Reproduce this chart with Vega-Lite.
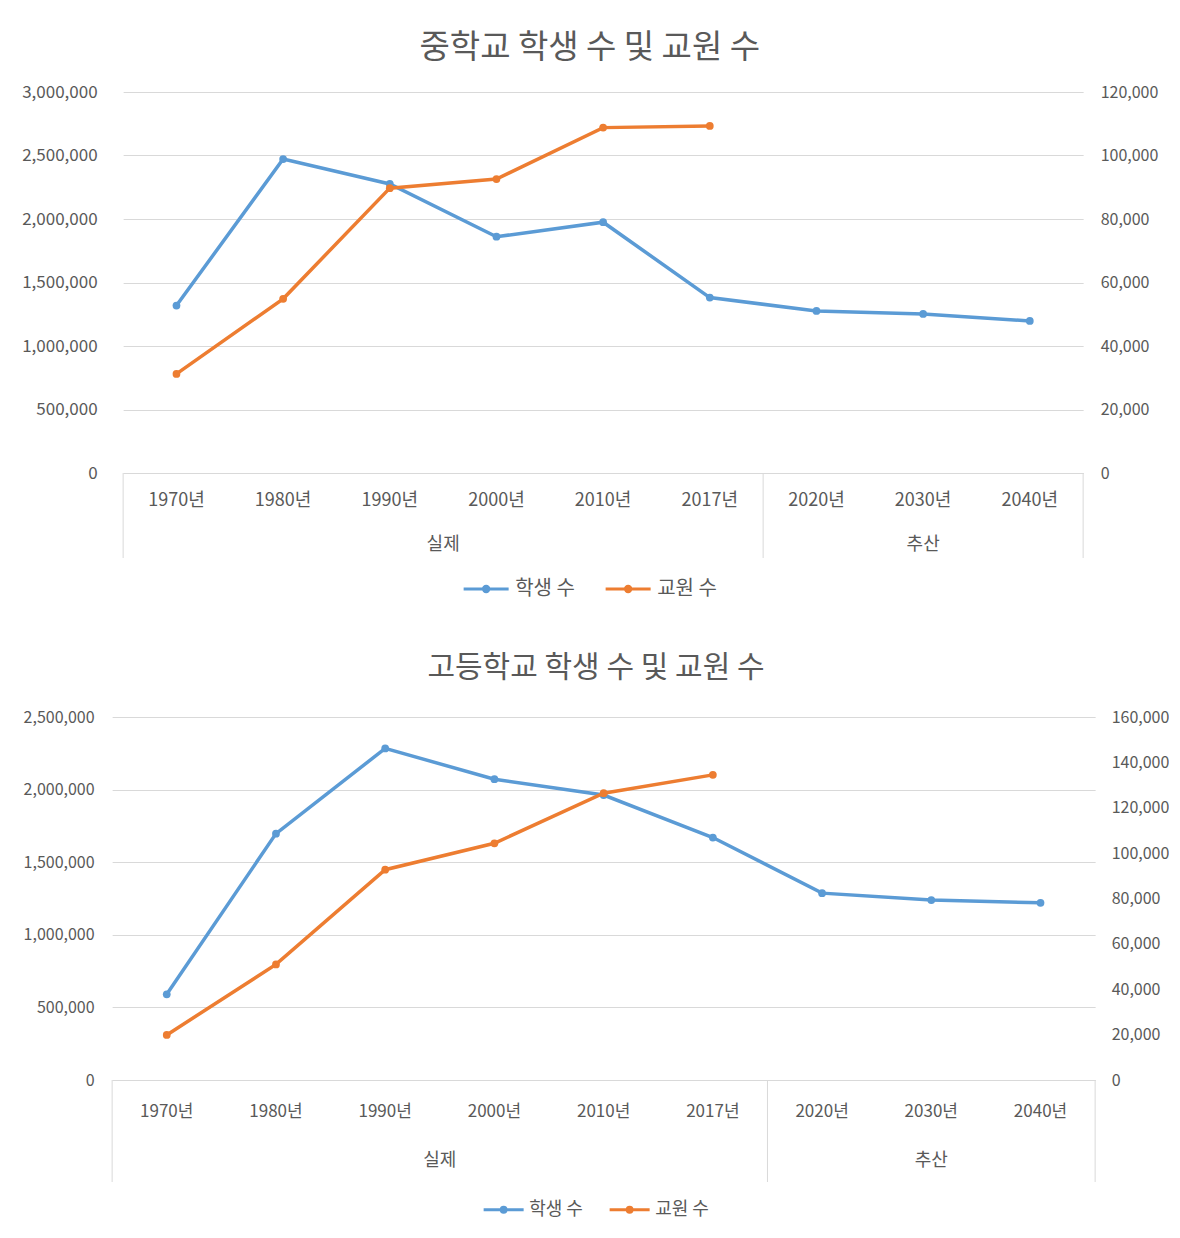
{
  "$schema": "https://vega.github.io/schema/vega-lite/v6.json",
  "background": "white",
  "padding": {"left": 21, "top": 32, "right": 0, "bottom": 0},
  "config": {
    "font": "Noto Sans CJK KR",
    "view": {"stroke": null},
    "axis": {"labelColor": "#595959", "labelFont": "Noto Sans CJK KR", "gridColor": "#D9D9D9", "domainColor": "#D9D9D9"},
    "legend": {"layout": {"bottom": {"anchor": "middle"}}},
    "title": {"color": "#595959", "fontWeight": "normal", "font": "Noto Sans CJK KR"}
  },
  "datasets": {
    "middle": [
      {"year": "1970년", "group": "실제", "series": "학생 수", "value": 1318808},
      {"year": "1980년", "group": "실제", "series": "학생 수", "value": 2471997},
      {"year": "1990년", "group": "실제", "series": "학생 수", "value": 2275751},
      {"year": "2000년", "group": "실제", "series": "학생 수", "value": 1860539},
      {"year": "2010년", "group": "실제", "series": "학생 수", "value": 1974798},
      {"year": "2017년", "group": "실제", "series": "학생 수", "value": 1381334},
      {"year": "2020년", "group": "추산", "series": "학생 수", "value": 1276000},
      {"year": "2030년", "group": "추산", "series": "학생 수", "value": 1252000},
      {"year": "2040년", "group": "추산", "series": "학생 수", "value": 1197000},
      {"year": "1970년", "group": "실제", "series": "교원 수", "value": 31207},
      {"year": "1980년", "group": "실제", "series": "교원 수", "value": 54858},
      {"year": "1990년", "group": "실제", "series": "교원 수", "value": 89719},
      {"year": "2000년", "group": "실제", "series": "교원 수", "value": 92589},
      {"year": "2010년", "group": "실제", "series": "교원 수", "value": 108781},
      {"year": "2017년", "group": "실제", "series": "교원 수", "value": 109300}
    ],
    "high": [
      {"year": "1970년", "group": "실제", "series": "학생 수", "value": 590382},
      {"year": "1980년", "group": "실제", "series": "학생 수", "value": 1696792},
      {"year": "1990년", "group": "실제", "series": "학생 수", "value": 2283806},
      {"year": "2000년", "group": "실제", "series": "학생 수", "value": 2071468},
      {"year": "2010년", "group": "실제", "series": "학생 수", "value": 1962356},
      {"year": "2017년", "group": "실제", "series": "학생 수", "value": 1669699},
      {"year": "2020년", "group": "추산", "series": "학생 수", "value": 1287000},
      {"year": "2030년", "group": "추산", "series": "학생 수", "value": 1239000},
      {"year": "2040년", "group": "추산", "series": "학생 수", "value": 1220000},
      {"year": "1970년", "group": "실제", "series": "교원 수", "value": 19854},
      {"year": "1980년", "group": "실제", "series": "교원 수", "value": 50948},
      {"year": "1990년", "group": "실제", "series": "교원 수", "value": 92683},
      {"year": "2000년", "group": "실제", "series": "교원 수", "value": 104351},
      {"year": "2010년", "group": "실제", "series": "교원 수", "value": 126423},
      {"year": "2017년", "group": "실제", "series": "교원 수", "value": 134500}
    ]
  },
  "resolve": {"scale": {"color": "independent"}, "legend": {"color": "independent"}},
  "columns": 1,
  "center": true,
  "spacing": 54,
  "concat": [
    {
      "title": {"text": "중학교 학생 수 및 교원 수", "fontSize": 33, "anchor": "middle", "offset": 18},
      "bounds": "flush",
      "spacing": 0,
      "vconcat": [
        {
          "width": 960,
          "height": 381,
          "data": {"name": "middle"},
          "encoding": {
            "x": {"field": "year", "type": "ordinal", "scale": {"type": "band", "paddingInner": 0, "paddingOuter": 0},
                  "axis": {"title": null, "labels": false, "ticks": false, "domain": true, "grid": false}}
          },
          "layer": [
            {
              "transform": [{"filter": "datum.series === '학생 수'"}],
              "mark": {"type": "line", "strokeWidth": 3.5, "point": {"filled": true, "size": 60}},
              "encoding": {
                "y": {"field": "value", "type": "quantitative", "scale": {"domain": [0, 3000000]},
                      "axis": {"title": null, "values": [0, 500000, 1000000, 1500000, 2000000, 2500000, 3000000], "format": ",d", "grid": true, "domain": false, "ticks": false, "labelPadding": 26, "labelFontSize": 17}},
                "color": {"field": "series", "type": "nominal", "scale": {"domain": ["학생 수", "교원 수"], "range": ["#5B9BD5", "#ED7D31"]},
                          "legend": {"title": null, "orient": "bottom", "direction": "horizontal", "symbolType": "M-1,0L1,0M-0.12,0A0.12,0.12,0,1,1,0.12,0A0.12,0.12,0,1,1,-0.12,0", "symbolSize": 2025, "symbolStrokeWidth": 3, "labelFontSize": 20, "labelColor": "#595959", "labelOffset": 5, "columnPadding": 24, "offset": 6}}
              }
            },
            {
              "transform": [{"filter": "datum.series === '교원 수'"}],
              "mark": {"type": "line", "strokeWidth": 3.5, "point": {"filled": true, "size": 60}},
              "encoding": {
                "y": {"field": "value", "type": "quantitative", "scale": {"domain": [0, 120000]},
                      "axis": {"orient": "right", "title": null, "values": [0, 20000, 40000, 60000, 80000, 100000, 120000], "format": ",d", "grid": false, "domain": false, "ticks": false, "labelPadding": 17, "labelFontSize": 16}},
                "color": {"field": "series", "type": "nominal"}
              }
            }
          ],
          "resolve": {"scale": {"y": "independent"}}
        },
        {
          "width": 960,
          "height": 85,
          "data": {"name": "middle"},
          "transform": [{"filter": "datum.series === '학생 수'"}],
          "encoding": {
            "x": {"field": "year", "type": "ordinal", "scale": {"type": "band", "paddingInner": 0, "paddingOuter": 0}, "axis": null}
          },
          "layer": [
            {
              "transform": [{"filter": "datum.year === '1970년' || datum.year === '2020년'"}],
              "mark": {"type": "rule", "color": "#D9D9D9", "strokeWidth": 1},
              "encoding": {"x": {"field": "year", "type": "ordinal", "bandPosition": 0, "scale": {"type": "band", "paddingInner": 0, "paddingOuter": 0}, "axis": null}}
            },
            {
              "transform": [{"filter": "datum.year === '2040년'"}],
              "mark": {"type": "rule", "color": "#D9D9D9", "strokeWidth": 1},
              "encoding": {"x": {"field": "year", "type": "ordinal", "bandPosition": 1, "scale": {"type": "band", "paddingInner": 0, "paddingOuter": 0}, "axis": null}}
            },
            {
              "mark": {"type": "text", "fontSize": 18, "color": "#595959", "baseline": "middle"},
              "encoding": {
                "text": {"field": "year"},
                "y": {"datum": "연도", "type": "ordinal", "scale": {"type": "point", "domain": ["연도", "구분"], "range": [28, 72], "padding": 0}, "axis": null}
              }
            },
            {
              "transform": [{"filter": "datum.year === '1990년'"}],
              "mark": {"type": "text", "fontSize": 18, "color": "#595959", "baseline": "middle"},
              "encoding": {
                "x": {"field": "year", "type": "ordinal", "bandPosition": 1, "scale": {"type": "band", "paddingInner": 0, "paddingOuter": 0}, "axis": null},
                "text": {"field": "group"},
                "y": {"datum": "구분", "type": "ordinal"}
              }
            },
            {
              "transform": [{"filter": "datum.year === '2030년'"}],
              "mark": {"type": "text", "fontSize": 18, "color": "#595959", "baseline": "middle"},
              "encoding": {
                "text": {"field": "group"},
                "y": {"datum": "구분", "type": "ordinal"}
              }
            }
          ]
        }
      ]
    },
    {
      "title": {"text": "고등학교 학생 수 및 교원 수", "fontSize": 30, "anchor": "middle", "offset": 26},
      "bounds": "flush",
      "spacing": 0,
      "vconcat": [
        {
          "width": 983,
          "height": 363,
          "data": {"name": "high"},
          "encoding": {
            "x": {"field": "year", "type": "ordinal", "scale": {"type": "band", "paddingInner": 0, "paddingOuter": 0},
                  "axis": {"title": null, "labels": false, "ticks": false, "domain": true, "grid": false}}
          },
          "layer": [
            {
              "transform": [{"filter": "datum.series === '학생 수'"}],
              "mark": {"type": "line", "strokeWidth": 3.5, "point": {"filled": true, "size": 60}},
              "encoding": {
                "y": {"field": "value", "type": "quantitative", "scale": {"domain": [0, 2500000]},
                      "axis": {"title": null, "values": [0, 500000, 1000000, 1500000, 2000000, 2500000], "format": ",d", "grid": true, "domain": false, "ticks": false, "labelPadding": 18, "labelFontSize": 16}},
                "color": {"field": "series", "type": "nominal", "scale": {"domain": ["학생 수", "교원 수"], "range": ["#5B9BD5", "#ED7D31"]},
                          "legend": {"title": null, "orient": "bottom", "direction": "horizontal", "symbolType": "M-1,0L1,0M-0.12,0A0.12,0.12,0,1,1,0.12,0A0.12,0.12,0,1,1,-0.12,0", "symbolSize": 1600, "symbolStrokeWidth": 3, "labelFontSize": 18, "labelColor": "#595959", "labelOffset": 4, "columnPadding": 20, "offset": 5}}
              }
            },
            {
              "transform": [{"filter": "datum.series === '교원 수'"}],
              "mark": {"type": "line", "strokeWidth": 3.5, "point": {"filled": true, "size": 60}},
              "encoding": {
                "y": {"field": "value", "type": "quantitative", "scale": {"domain": [0, 160000]},
                      "axis": {"orient": "right", "title": null, "values": [0, 20000, 40000, 60000, 80000, 100000, 120000, 140000, 160000], "format": ",d", "grid": false, "domain": false, "ticks": false, "labelPadding": 16, "labelFontSize": 16}},
                "color": {"field": "series", "type": "nominal"}
              }
            }
          ],
          "resolve": {"scale": {"y": "independent"}}
        },
        {
          "width": 983,
          "height": 102,
          "data": {"name": "high"},
          "transform": [{"filter": "datum.series === '학생 수'"}],
          "encoding": {
            "x": {"field": "year", "type": "ordinal", "scale": {"type": "band", "paddingInner": 0, "paddingOuter": 0}, "axis": null}
          },
          "layer": [
            {
              "transform": [{"filter": "datum.year === '1970년' || datum.year === '2020년'"}],
              "mark": {"type": "rule", "color": "#D9D9D9", "strokeWidth": 1},
              "encoding": {"x": {"field": "year", "type": "ordinal", "bandPosition": 0, "scale": {"type": "band", "paddingInner": 0, "paddingOuter": 0}, "axis": null}}
            },
            {
              "transform": [{"filter": "datum.year === '2040년'"}],
              "mark": {"type": "rule", "color": "#D9D9D9", "strokeWidth": 1},
              "encoding": {"x": {"field": "year", "type": "ordinal", "bandPosition": 1, "scale": {"type": "band", "paddingInner": 0, "paddingOuter": 0}, "axis": null}}
            },
            {
              "mark": {"type": "text", "fontSize": 17, "color": "#595959", "baseline": "middle"},
              "encoding": {
                "text": {"field": "year"},
                "y": {"datum": "연도", "type": "ordinal", "scale": {"type": "point", "domain": ["연도", "구분"], "range": [32, 81], "padding": 0}, "axis": null}
              }
            },
            {
              "transform": [{"filter": "datum.year === '1990년'"}],
              "mark": {"type": "text", "fontSize": 18, "color": "#595959", "baseline": "middle"},
              "encoding": {
                "x": {"field": "year", "type": "ordinal", "bandPosition": 1, "scale": {"type": "band", "paddingInner": 0, "paddingOuter": 0}, "axis": null},
                "text": {"field": "group"},
                "y": {"datum": "구분", "type": "ordinal"}
              }
            },
            {
              "transform": [{"filter": "datum.year === '2030년'"}],
              "mark": {"type": "text", "fontSize": 18, "color": "#595959", "baseline": "middle"},
              "encoding": {
                "text": {"field": "group"},
                "y": {"datum": "구분", "type": "ordinal"}
              }
            }
          ]
        }
      ]
    }
  ]
}
